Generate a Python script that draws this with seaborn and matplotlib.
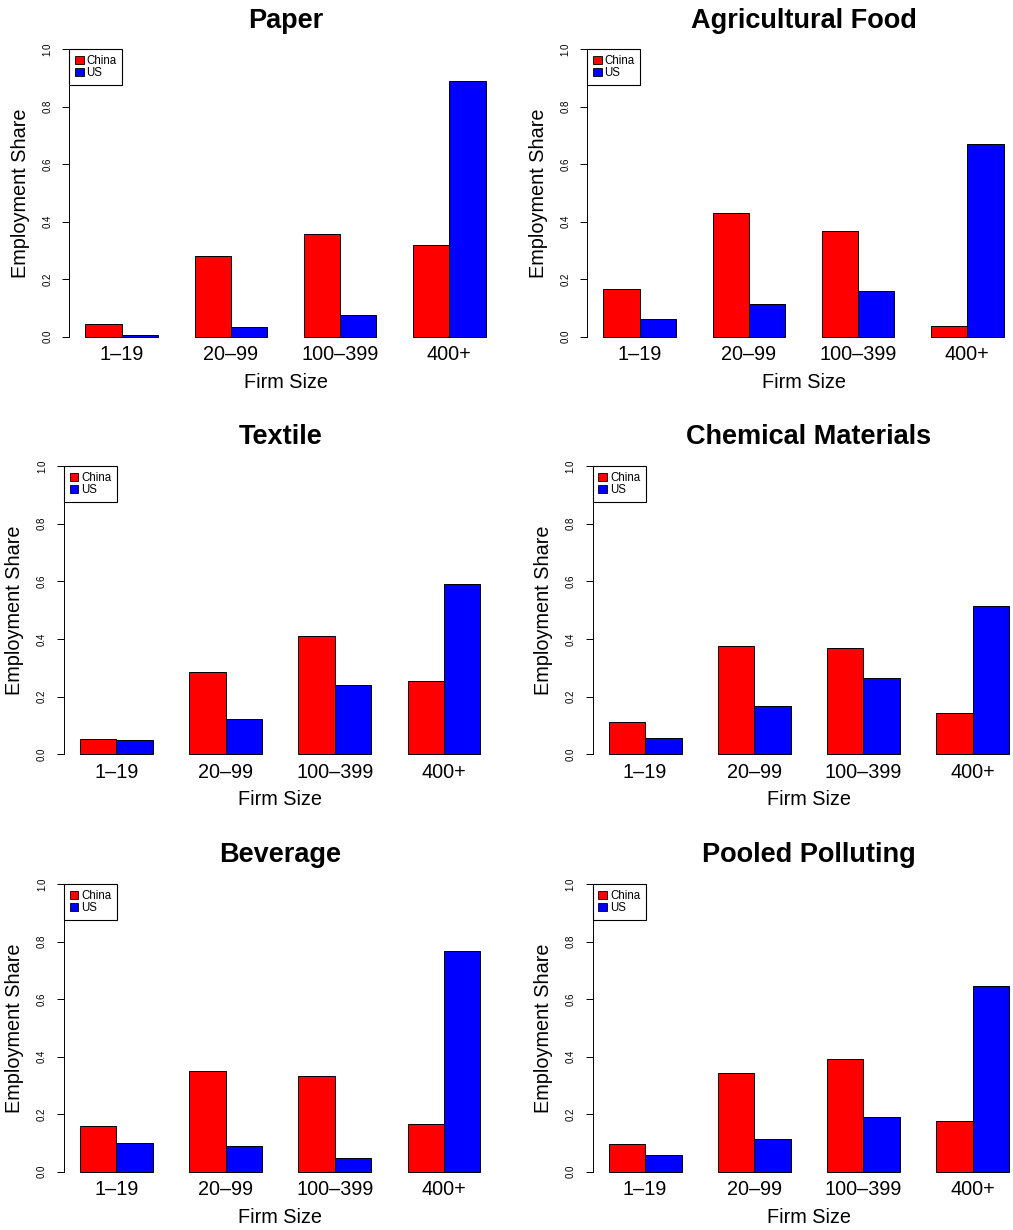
import matplotlib
matplotlib.use("Agg")
import matplotlib.pyplot as plt
from matplotlib.patches import Patch
import pandas as pd
import seaborn as sns

# Employment share by firm size, China vs US, for several polluting industries
sizes = ["1–19", "20–99", "100–399", "400+"]
countries = ["China", "US"]
panels = ["Paper", "Agricultural Food", "Textile",
          "Chemical Materials", "Beverage", "Pooled Polluting"]

china_shares = [
    [0.045, 0.280, 0.358, 0.318],   # Paper
    [0.165, 0.429, 0.368, 0.038],   # Agricultural Food
    [0.052, 0.286, 0.412, 0.254],   # Textile
    [0.113, 0.375, 0.370, 0.143],   # Chemical Materials
    [0.158, 0.349, 0.331, 0.166],   # Beverage
    [0.095, 0.342, 0.390, 0.177],   # Pooled Polluting
]
us_shares = [
    [0.005, 0.034, 0.075, 0.889],
    [0.061, 0.114, 0.158, 0.669],
    [0.049, 0.121, 0.240, 0.592],
    [0.055, 0.166, 0.266, 0.514],
    [0.101, 0.089, 0.046, 0.768],
    [0.057, 0.112, 0.190, 0.644],
]
y_ticks = [0.0, 0.2, 0.4, 0.6, 0.8, 1.0]
y_tick_labels = ["0.0", "0.2", "0.4", "0.6", "0.8", "1.0"]
colors = {"China": "#FF0000", "US": "#0000FF"}

sns.set_theme(style="white")
plt.rcParams["font.family"] = ["Liberation Sans", "DejaVu Sans"]
plt.rcParams["text.color"] = "black"
plt.rcParams["axes.labelcolor"] = "black"
plt.rcParams["xtick.color"] = "black"
plt.rcParams["ytick.color"] = "black"

W, H = 1013, 1230
fig = plt.figure(figsize=(W / 100, H / 100), dpi=100)
fig.patch.set_facecolor("white")

# plot regions in pixels: (left, top, bottom, title baseline)
boxes = [
    (69.3, 37.8, 348.2, 28.0),
    (587.3, 37.8, 348.2, 28.5),
    (64.0, 454.5, 765.8, 444.0),
    (592.7, 454.5, 765.8, 444.0),
    (64.0, 872.5, 1183.2, 862.0),
    (592.7, 872.5, 1183.2, 862.0),
]
region_w = 432.4

for name, cn, us, (left, top, bottom, tbase) in zip(panels, china_shares, us_shares, boxes):
    ax = fig.add_axes([left / W, 1 - bottom / H, region_w / W, (bottom - top) / H])
    df = pd.DataFrame({
        "size": sizes * 2,
        "country": [countries[0]] * 4 + [countries[1]] * 4,
        "share": cn + us,
    })
    sns.barplot(data=df, x="size", y="share", hue="country", order=sizes,
                hue_order=countries, palette=colors, saturation=1,
                width=2 / 3, gap=0, edgecolor="black", linewidth=0.7,
                errorbar=None, legend=False, ax=ax)
    ax.set_xlim(-0.48, 3.48)
    ax.set_ylim(-0.04, 1.04)
    ax.set_xlabel("")
    ax.set_ylabel("")
    ax.grid(False)
    for s in ("top", "right", "bottom"):
        ax.spines[s].set_visible(False)
    ax.spines["left"].set_bounds(0, 1)
    ax.spines["left"].set_color("black")
    ax.spines["left"].set_linewidth(0.7)
    ax.set_yticks(y_ticks)
    ax.set_yticklabels(y_tick_labels)
    ax.tick_params(axis="y", length=4.7, width=0.7, color="black",
                   labelcolor="black", labelsize=7, labelrotation=90,
                   pad=7.5, left=True)
    ax.tick_params(axis="x", length=0, labelsize=14.3, pad=-2,
                   labelcolor="black")
    for lab in ax.get_yticklabels():
        lab.set_verticalalignment("center")

    handles = [Patch(facecolor=colors[c], edgecolor="black", linewidth=0.6) for c in countries]
    leg = ax.legend(handles, countries, loc="upper left",
                    bbox_to_anchor=(0, 1.04 / 1.08), bbox_transform=ax.transAxes,
                    borderaxespad=0, fontsize=8.3, frameon=True, fancybox=False,
                    edgecolor="black", framealpha=1, handlelength=0.75,
                    handleheight=0.65, handletextpad=0.25, labelspacing=0.0,
                    borderpad=0.5)
    leg.get_frame().set_linewidth(0.8)
    for t in leg.get_texts():
        t.set_color("black")

    cx = left + region_w / 2
    fig.text(cx / W, 1 - tbase / H, name, ha="center", va="baseline",
             fontsize=19.5, fontweight="bold", color="black")
    fig.text(cx / W, 1 - (bottom + 34) / H, "Firm Size", ha="center",
             va="center", fontsize=14.3, color="black")
    fig.text((left - 49) / W, 1 - ((top + bottom) / 2) / H, "Employment Share",
             ha="center", va="center", rotation=90, fontsize=14.3, color="black")

fig.savefig("out.png", dpi=100, facecolor="white")
